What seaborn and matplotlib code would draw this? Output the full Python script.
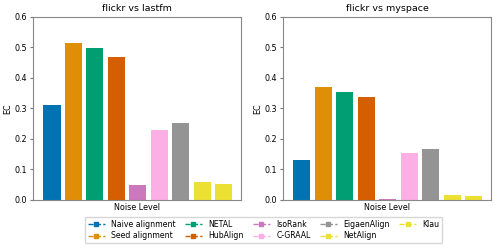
import numpy as np
import pandas as pd
import matplotlib
matplotlib.use("Agg")
import matplotlib.pyplot as plt
import seaborn as sns
from matplotlib.lines import Line2D

# Metodos y colores
metodos = ["Naive alignment", "Seed alignment", "NETAL", "HubAlign", "IsoRank",
           "C-GRAAL", "EigaenAlign", "NetAlign", "Klau"]
colores = ["#0173b2", "#de8f05", "#029e73", "#d55e00", "#cc78bc",
           "#fbafe4", "#949494", "#ece133", "#ece133"]

# Valores EC
ec_lastfm = [0.310, 0.515, 0.497, 0.468, 0.049, 0.229, 0.251, 0.060, 0.053]
ec_myspace = [0.131, 0.370, 0.354, 0.337, 0.003, 0.155, 0.166, 0.016, 0.014]

titulos = ["flickr vs lastfm", "flickr vs myspace"]

fig = plt.figure(figsize=(4.99, 2.48), dpi=100)
ax1 = fig.add_axes([0.067, 0.194, 0.415, 0.738])
ax2 = fig.add_axes([0.568, 0.194, 0.415, 0.738])

for ax, valores, titulo in zip([ax1, ax2], [ec_lastfm, ec_myspace], titulos):
    df = pd.DataFrame({"metodo": metodos, "EC": valores})
    sns.barplot(
        data=df,
        x="metodo",
        y="EC",
        hue="metodo",
        order=metodos,
        hue_order=metodos,
        palette=colores,
        saturation=1,
        width=0.8,
        legend=False,
        ax=ax
    )
    ax.set_xlim(-0.86, 8.78)
    ax.set_ylim(0, 0.6)
    ax.set_xticks([])
    ax.set_xlabel("Noise Level", fontsize=5.8, labelpad=2)
    ax.set_ylabel("EC", fontsize=5.8, labelpad=2)
    ax.set_title(titulo, fontsize=6.8, pad=4)
    ax.tick_params(axis="y", labelsize=5.8, length=2.5, pad=2, color="#777777")
    for s in ax.spines.values():
        s.set_color("#888888")

handles = [
    Line2D([0], [0], color=c, linestyle="--", marker="s", markersize=2.5, linewidth=1.0)
    for c in colores
]
fig.legend(
    handles,
    metodos,
    loc="center",
    bbox_to_anchor=(0.528, 0.073),
    ncol=5,
    fontsize=5.6,
    frameon=True,
    handlelength=2.2,
    columnspacing=1.2,
    labelspacing=0.35,
    borderpad=0.35
)

fig.savefig("out.png", dpi=100)
